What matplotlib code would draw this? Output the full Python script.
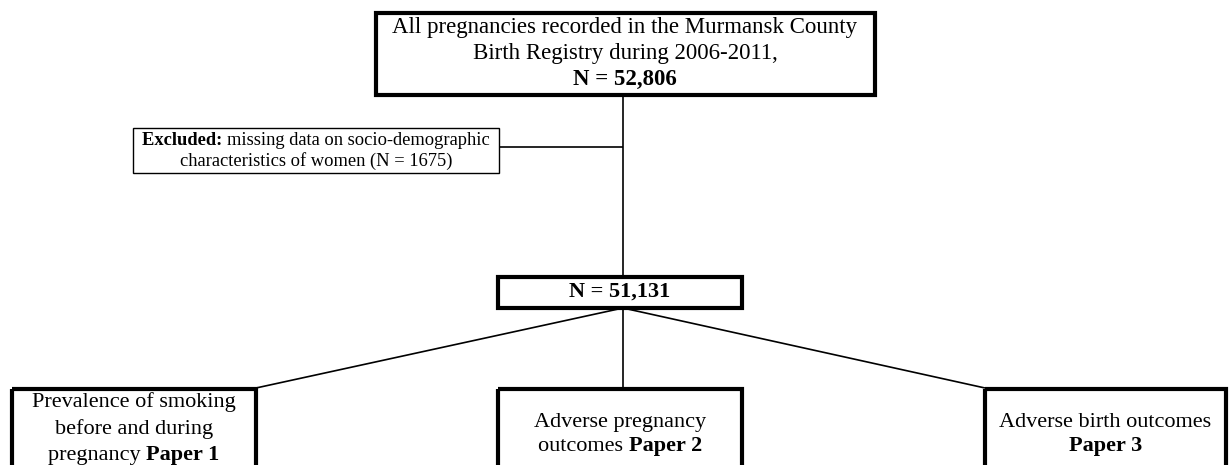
import matplotlib
matplotlib.use("Agg")
import matplotlib.pyplot as plt
from matplotlib.patches import Rectangle

plt.rcParams['font.family'] = ['Liberation Serif', 'DejaVu Serif']

# ---- content ----
total_n = "52,806"
excluded_n = 1675
analysed_n = "51,131"
top_lines = ["All pregnancies recorded in the Murmansk County",
             "Birth Registry during 2006-2011,"]
excluded_label = "Excluded:"
excluded_lines = ["missing data on socio-demographic",
                  "characteristics of women (N = %d)" % excluded_n]
paper_texts = [
    [[("Prevalence of smoking", "normal")],
     [("before and during", "normal")],
     [("pregnancy ", "normal"), ("Paper 1", "bold")]],
    [[("Adverse pregnancy", "normal")],
     [("outcomes ", "normal"), ("Paper 2", "bold")]],
    [[("Adverse birth outcomes", "normal")],
     [("Paper 3", "bold")]],
]

W, H = 1232, 465
fig = plt.figure(figsize=(W / 100, H / 100), dpi=100)
ax = fig.add_axes([0, 0, 1, 1])
ax.set_xlim(0, W)
ax.set_ylim(H, 0)
ax.axis('off')
renderer = fig.canvas.get_renderer()


def box(x0, y0, x1, y1, lw):
    ax.add_patch(Rectangle((x0, y0), x1 - x0, y1 - y0, fill=False,
                           edgecolor='black', linewidth=lw, zorder=3))


def line(xs, ys, lw=1.2):
    ax.plot(xs, ys, color='black', linewidth=lw, zorder=2, solid_capstyle='butt')


def rich_line(xc, y, parts, size):
    texts = []
    for s, w in parts:
        t = ax.text(0, y, s, fontsize=size, fontweight=w, va='center', ha='left')
        texts.append(t)
    widths = [t.get_window_extent(renderer=renderer).width for t in texts]
    total = sum(widths)
    x = xc - total / 2.0
    for t, w in zip(texts, widths):
        t.set_x(x)
        x += w


# top box
box(376, 13, 875, 95, 3.0)
rich_line(625, 27, [(top_lines[0], "normal")], 16.5)
rich_line(625, 53, [(top_lines[1], "normal")], 16.5)
rich_line(625, 79, [("N = " + total_n, "bold")], 16.5)

# vertical trunk
line([623, 623], [95, 276])

# excluded box
box(133, 128, 499, 173, 1.0)
line([499, 623], [147, 147])
rich_line(316, 140, [(excluded_label + " ", "bold"), (excluded_lines[0], "normal")], 13.3)
rich_line(316, 161, [(excluded_lines[1], "normal")], 13.3)

# middle box
box(498, 277, 742, 308, 3.0)
rich_line(620, 292, [("N = " + analysed_n, "bold")], 16)

# branches
line([623, 256], [308, 388])
line([623, 623], [308, 389])
line([623, 985], [308, 388])

# bottom boxes (cropped at figure bottom)
bottoms = [(12, 256), (498, 742), (985, 1226)]
line_y = [[402, 429, 455], [422, 446], [422, 446]]
for (x0, x1), parts, ys in zip(bottoms, paper_texts, line_y):
    box(x0, 389, x1, 480, 3.0)
    xc = (x0 + x1) / 2.0
    for p, yy in zip(parts, ys):
        rich_line(xc, yy, p, 16)

fig.savefig("out.png", dpi=100)
